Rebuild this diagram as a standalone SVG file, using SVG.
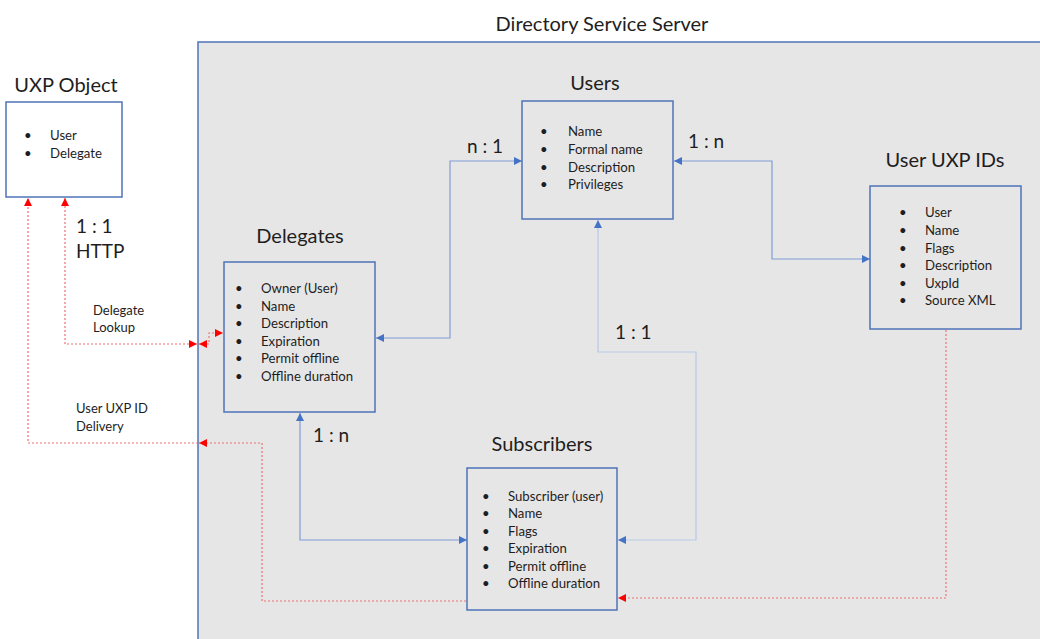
<svg xmlns="http://www.w3.org/2000/svg" width="1040" height="639" viewBox="0 0 1040 639">
<defs>
<marker id="ab" viewBox="0 0 10 10" refX="10" refY="5" markerWidth="8" markerHeight="8" markerUnits="userSpaceOnUse" orient="auto-start-reverse"><path d="M0,0 L10,5 L0,10 z" fill="#4472c4"/></marker>
<marker id="ar" viewBox="0 0 10 10" refX="10" refY="5" markerWidth="8" markerHeight="8" markerUnits="userSpaceOnUse" orient="auto-start-reverse"><path d="M0,0 L10,5 L0,10 z" fill="#ff0000"/></marker>
<style>
text{font-family:"Lato","Open Sans","Liberation Sans",sans-serif;fill:#1e1e1e;}
.title{font-size:20px;text-anchor:middle;}
.item{font-size:13.2px;}
.rel{font-size:19px;}
.lbl{font-size:13px;}
.box{fill:#e7e6e6;stroke:#4f73b8;stroke-width:1.5;}
.wbox{fill:#ffffff;stroke:#4f73b8;stroke-width:1.5;}
.cb{fill:none;stroke:#7f9ed6;stroke-width:1.2;}
.cl{fill:none;stroke:#b8c9e6;stroke-width:1.2;}
.cr{fill:none;stroke:#f07070;stroke-width:1.2;stroke-dasharray:2,2;}
</style>
</defs>
<rect width="1040" height="639" fill="#ffffff"/>
<g id="server">
<rect x="198" y="42" width="850" height="610" class="box"/>
<text x="602" y="31" class="title">Directory Service Server</text>
</g>
<g id="connectors">
<path d="M522,161 H450 V338 H376" class="cb" marker-start="url(#ab)" marker-end="url(#ab)"/>
<path d="M674,161 H772 V259 H870" class="cb" marker-start="url(#ab)" marker-end="url(#ab)"/>
<path d="M598,220 V352 H696 V540 H618" class="cl" marker-start="url(#ab)" marker-end="url(#ab)"/>
<path d="M300,413 V540 H467" class="cb" marker-start="url(#ab)" marker-end="url(#ab)"/>
<path d="M946,330 V598 H618" class="cr" marker-end="url(#ar)"/>
<path d="M466,601 H262 V443 H199" class="cr" marker-end="url(#ar)"/>
<path d="M198,443 H28 V198" class="cr" marker-end="url(#ar)"/>
<path d="M65,198 V344 H197" class="cr" marker-start="url(#ar)" marker-end="url(#ar)"/>
<path d="M199,344 H209 V333 H223" class="cr" marker-start="url(#ar)" marker-end="url(#ar)"/>
<text x="467" y="153" class="rel">n : 1</text>
<text x="688" y="148" class="rel">1 : n</text>
<text x="615" y="339" class="rel">1 : 1</text>
<text x="313" y="442" class="rel">1 : n</text>
<text x="76" y="233" class="rel">1 : 1</text>
<text x="76" y="258" class="rel">HTTP</text>
<text x="93" y="315" class="lbl">Delegate</text>
<text x="93" y="332" class="lbl">Lookup</text>
<text x="76" y="413" class="lbl">User UXP ID</text>
<text x="76" y="431" class="lbl">Delivery</text>
</g>
<g id="uxp-object">
<text x="66" y="92" class="title">UXP Object</text>
<rect x="6" y="102" width="116" height="95" class="wbox"/>
<text x="24" y="140" class="item">•</text><text x="50" y="140" class="item">User</text>
<text x="24" y="158" class="item">•</text><text x="50" y="158" class="item">Delegate</text>
</g>
<g id="users">
<text x="595" y="90" class="title">Users</text>
<rect x="522" y="101" width="151" height="118" class="box"/>
<text x="540" y="136" class="item">•</text><text x="568" y="136" class="item">Name</text>
<text x="540" y="154" class="item">•</text><text x="568" y="154" class="item">Formal name</text>
<text x="540" y="172" class="item">•</text><text x="568" y="172" class="item">Description</text>
<text x="540" y="189" class="item">•</text><text x="568" y="189" class="item">Privileges</text>
</g>
<g id="user-uxp-ids">
<text x="945" y="167" class="title">User UXP IDs</text>
<rect x="870" y="186" width="151" height="143" class="box"/>
<text x="899" y="217" class="item">•</text><text x="925" y="217" class="item">User</text>
<text x="899" y="235" class="item">•</text><text x="925" y="235" class="item">Name</text>
<text x="899" y="253" class="item">•</text><text x="925" y="253" class="item">Flags</text>
<text x="899" y="270" class="item">•</text><text x="925" y="270" class="item">Description</text>
<text x="899" y="288" class="item">•</text><text x="925" y="288" class="item">UxpId</text>
<text x="899" y="305" class="item">•</text><text x="925" y="305" class="item">Source XML</text>
</g>
<g id="delegates">
<text x="300" y="243" class="title">Delegates</text>
<rect x="224" y="262" width="151" height="150" class="box"/>
<text x="235" y="293" class="item">•</text><text x="261" y="293" class="item">Owner (User)</text>
<text x="235" y="311" class="item">•</text><text x="261" y="311" class="item">Name</text>
<text x="235" y="328" class="item">•</text><text x="261" y="328" class="item">Description</text>
<text x="235" y="346" class="item">•</text><text x="261" y="346" class="item">Expiration</text>
<text x="235" y="363" class="item">•</text><text x="261" y="363" class="item">Permit offline</text>
<text x="235" y="381" class="item">•</text><text x="261" y="381" class="item">Offline duration</text>
</g>
<g id="subscribers">
<text x="542" y="451" class="title">Subscribers</text>
<rect x="467" y="468" width="150" height="142" class="box"/>
<text x="482" y="501" class="item">•</text><text x="508" y="501" class="item">Subscriber (user)</text>
<text x="482" y="518" class="item">•</text><text x="508" y="518" class="item">Name</text>
<text x="482" y="536" class="item">•</text><text x="508" y="536" class="item">Flags</text>
<text x="482" y="553" class="item">•</text><text x="508" y="553" class="item">Expiration</text>
<text x="482" y="571" class="item">•</text><text x="508" y="571" class="item">Permit offline</text>
<text x="482" y="588" class="item">•</text><text x="508" y="588" class="item">Offline duration</text>
</g>
</svg>
